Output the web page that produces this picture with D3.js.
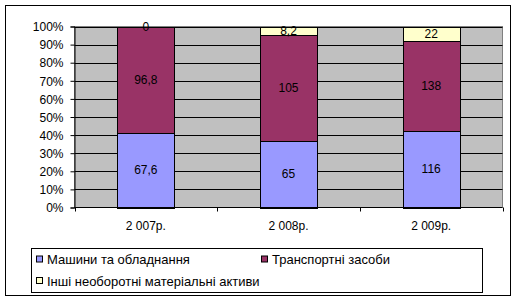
<!DOCTYPE html>
<html>
<head>
<meta charset="utf-8">
<script src="https://cdn.jsdelivr.net/npm/d3@7"></script>
<style>
  html, body { margin: 0; padding: 0; background: #fff; }
  svg { display: block; font-family: Arial, "Liberation Sans", sans-serif; }
</style>
</head>
<body>
<div id="chart"></div>
<script>
const years = ['2 007р.', '2 008р.', '2 009р.'];
const seriesNames = ['Машини та обладнання', 'Транспортні засоби', 'Інші необоротні матеріальні активи'];
const machines = [67.6, 65, 116];
const transport = [96.8, 105, 138];
const other = [0, 8.2, 22];
const yTicks = [0, 0.1, 0.2, 0.3, 0.4, 0.5, 0.6, 0.7, 0.8, 0.9, 1];
const colors = ['#9999FF', '#993366', '#FFFFCC'];

const W = 517, H = 301;
const plot = { left: 74.5, top: 26.5, right: 502.5, bottom: 207.5 };

const svg = d3.select('#chart').append('svg').attr('width', W).attr('height', H);

// outer chart border
svg.append('rect').attr('x', 5.5).attr('y', 5.5).attr('width', 505).attr('height', 290)
  .attr('fill', '#fff').attr('stroke', '#000').attr('stroke-width', 1);

const x = d3.scaleBand().domain(years).range([plot.left, plot.right]).paddingInner(0.6).paddingOuter(0.3);
const y = d3.scaleLinear().domain([0, 1]).range([plot.bottom, plot.top]);

// plot area
svg.append('rect').attr('x', plot.left).attr('y', plot.top)
  .attr('width', plot.right - plot.left).attr('height', plot.bottom - plot.top)
  .attr('fill', '#C0C0C0').attr('stroke', '#808080');

// gridlines
svg.append('g').selectAll('line').data(yTicks.slice(1)).join('line')
  .attr('x1', plot.left).attr('x2', plot.right)
  .attr('y1', d => Math.round(y(d)) + 0.5).attr('y2', d => Math.round(y(d)) + 0.5)
  .attr('stroke', '#000');

// stacked data
const table = years.map((yr, i) => {
  const total = machines[i] + transport[i] + other[i];
  return { year: yr, vals: [machines[i], transport[i], other[i]], total };
});
const segs = [];
table.forEach(row => {
  let acc = 0;
  row.vals.forEach((v, k) => {
    segs.push({ year: row.year, k, v, y0: acc / row.total, y1: (acc + v) / row.total });
    acc += v;
  });
});

const bw = x.bandwidth();
svg.append('g').selectAll('rect').data(segs).join('rect')
  .attr('x', d => Math.round(x(d.year)) + 0.5)
  .attr('y', d => Math.round(y(d.y1)) + 0.5)
  .attr('width', Math.round(bw))
  .attr('height', d => Math.round(y(d.y0)) - Math.round(y(d.y1)))
  .attr('fill', d => colors[d.k]).attr('stroke', '#000');

svg.append('g').selectAll('text').data(segs).join('text')
  .attr('x', d => x(d.year) + bw / 2)
  .attr('y', d => (y(d.y0) + y(d.y1)) / 2 + 4)
  .attr('text-anchor', 'middle').attr('font-size', 12).attr('fill', '#000')
  .text(d => String(d.v).replace('.', ','));

// axes
const yAxis = d3.axisLeft(y).tickValues(yTicks).tickSize(4).tickFormat(d3.format('.0%'));
const ya = svg.append('g').attr('transform', `translate(${plot.left},0)`).call(yAxis);
ya.select('.domain').attr('stroke', '#000');
ya.selectAll('.tick line').attr('stroke', '#000');
ya.selectAll('.tick text').attr('font-size', 12).attr('font-family', 'Arial, "Liberation Sans", sans-serif')
  .attr('fill', '#000').attr('x', -11).attr('dy', '0.35em');

const xa = svg.append('g').attr('transform', `translate(0,${plot.bottom})`);
xa.append('line').attr('x1', plot.left).attr('x2', plot.right).attr('stroke', '#000');
const bounds = [plot.left].concat(years.map(yr => x(yr) + bw + x.step() * x.paddingInner() / 2));
bounds[bounds.length - 1] = plot.right;
xa.selectAll('line.tk').data(bounds).join('line').attr('class', 'tk')
  .attr('x1', d => Math.round(d) + 0.5).attr('x2', d => Math.round(d) + 0.5)
  .attr('y1', 0).attr('y2', 4).attr('stroke', '#000');
xa.selectAll('text').data(years).join('text')
  .attr('x', d => x(d) + bw / 2).attr('y', 22.5)
  .attr('text-anchor', 'middle').attr('font-size', 12).attr('fill', '#000').text(d => d);

// legend
const lg = svg.append('g');
lg.append('rect').attr('x', 31.5).attr('y', 248.5).attr('width', 451).attr('height', 44)
  .attr('fill', '#fff').attr('stroke', '#000');
const legPos = [[36, 259.5], [261, 259.5], [36, 281]];
const items = lg.selectAll('g.item').data(seriesNames).join('g').attr('class', 'item')
  .attr('transform', (d, i) => `translate(${legPos[i][0]},${legPos[i][1]})`);
items.append('rect').attr('x', 0.5).attr('y', -3.5).attr('width', 6).attr('height', 6)
  .attr('fill', (d, i) => colors[i]).attr('stroke', '#000');
items.append('text').attr('x', 11).attr('y', 4.5).attr('font-size', 13).attr('fill', '#000').text(d => d);
</script>
</body>
</html>
